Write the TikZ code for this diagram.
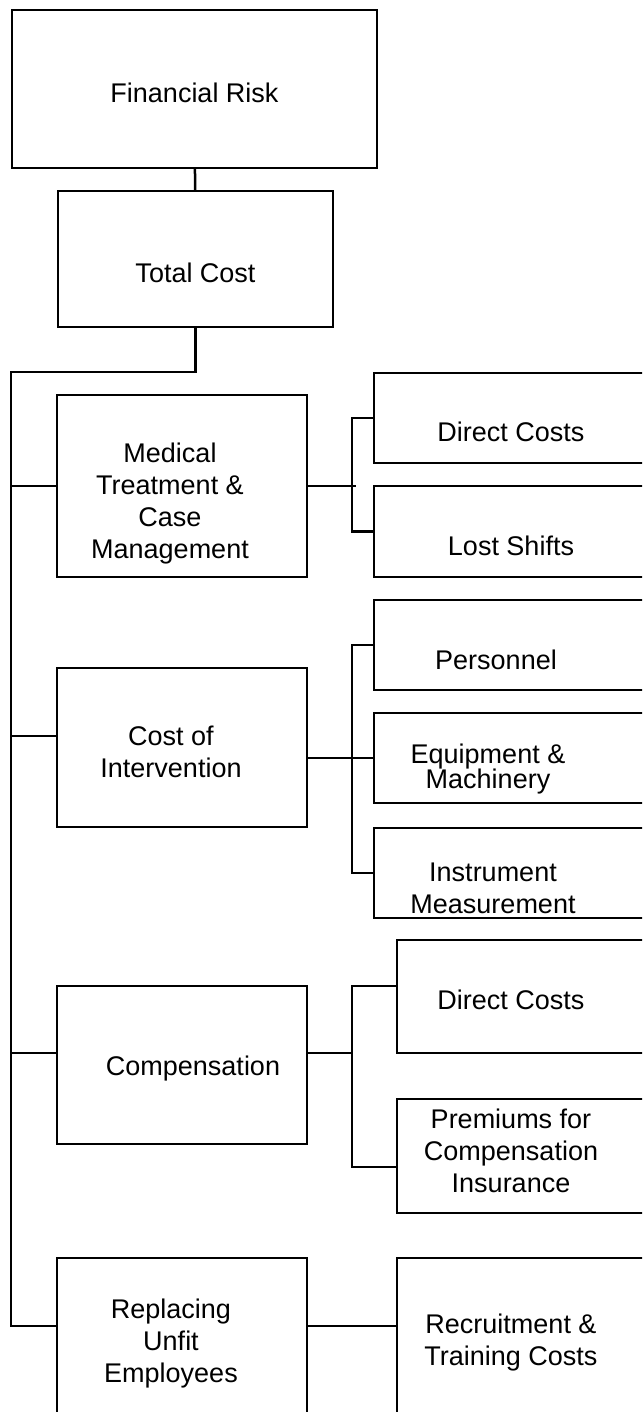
\documentclass[tikz,border=0pt]{standalone}
\usepackage{fontspec}
\setmainfont{Liberation Sans}
\usepackage{tikz}

\begin{document}
\begin{tikzpicture}%
  [x=1pt,y=-1pt,line width=2.5pt]
  \tikzstyle{box node}=[rectangle,draw=black,inner sep=0,outer sep=0]
  \tikzstyle{txt}=[font=\fontsize{27}{32}\selectfont,align=center]
  \clip (0,0) rectangle (642,1412);
  % top of the tree
  \node(fin)[box node,minimum width=365,minimum height=158,
    label={[txt,shift={(0,4)}]center:Financial Risk}] at (194.5,89) {};
  \node(tot)[box node,minimum width=275,minimum height=136,
    label={[txt,shift={(0,14)}]center:Total Cost}] at (195.5,259) {};
  % left column
  \node(med)[box node,minimum width=250,minimum height=182,
    label={[txt,shift={(-12,18)}]center:{Medical\\Treatment \&\\Case\\Management}}] at (182,486) {};
  \node(int)[box node,minimum width=250,minimum height=159,
    label={[txt,shift={(-11,4)}]center:{Cost of\\Intervention}}] at (182,747.5) {};
  \node(comp)[box node,minimum width=250,minimum height=158,
    label={[txt,shift={(11,4)}]center:Compensation}] at (182,1065) {};
  \node(repl)[box node,minimum width=250,minimum height=182,
    label={[txt,shift={(-11,-5)}]center:{Replacing\\Unfit\\Employees}}] at (182,1349) {};
  % right column
  \node(dc1)[box node,minimum width=286,minimum height=90,
    label={[txt,shift={(-6,14)}]center:Direct Costs}] at (517,418) {};
  \node(ls)[box node,minimum width=286,minimum height=91,
    label={[txt,shift={(-6,14.5)}]center:Lost Shifts}] at (517,531.5) {};
  \node(pers)[box node,minimum width=286,minimum height=90,
    label={[txt,shift={(-21,15)}]center:Personnel}] at (517,645) {};
  \node(equ)[box node,minimum width=286,minimum height=90,
    label={[txt,shift={(-29,11)}]center:{Equipment \&\\[-7pt]Machinery}}] at (517,758) {};
  \node(inst)[box node,minimum width=286,minimum height=90,
    label={[txt,shift={(-24,15)}]center:{Instrument\\Measurement}}] at (517,873) {};
  \node(dc2)[box node,minimum width=263,minimum height=113,
    label={[txt,shift={(-17.5,3.5)}]center:Direct Costs}] at (528.5,996.5) {};
  \node(prem)[box node,minimum width=263,minimum height=114,
    label={[txt,shift={(-17.5,-5)}]center:{Premiums for\\Compensation\\Insurance}}] at (528.5,1156) {};
  \node(recr)[box node,minimum width=263,minimum height=182,
    label={[txt,shift={(-17.5,-6)}]center:{Recruitment \&\\Training Costs}}] at (528.5,1349) {};
  % connectors
  \coordinate(trunk) at (11,372);
  \draw (fin) -- (tot);
  \draw (tot.south) |- (trunk) |- ([yshift=23]repl.west);
  \draw (trunk |- med.west) -- (med.west);
  \draw (trunk |- int.west) ++(0,-11.5) -- ([yshift=11.5]int.west);
  \draw (trunk |- comp.west) ++(0,-12) -- ([yshift=12]comp.west);
  \draw (med.east) -- ++(49,0);
  \draw (dc1.west) -- ++(-22,0) |- (ls.west);
  \draw (equ.west) -- (int.east |- equ.west);
  \draw (pers.west) -- ++(-22,0) |- (inst.west);
  \draw ([yshift=12]comp.east) -- ++(45,0);
  \draw ([yshift=10.5]dc2.west) -- ++(-45,0) |- ([yshift=-11]prem.west);
  \draw ([yshift=23]repl.east) -- ([yshift=23]recr.west);
\end{tikzpicture}
\end{document}
